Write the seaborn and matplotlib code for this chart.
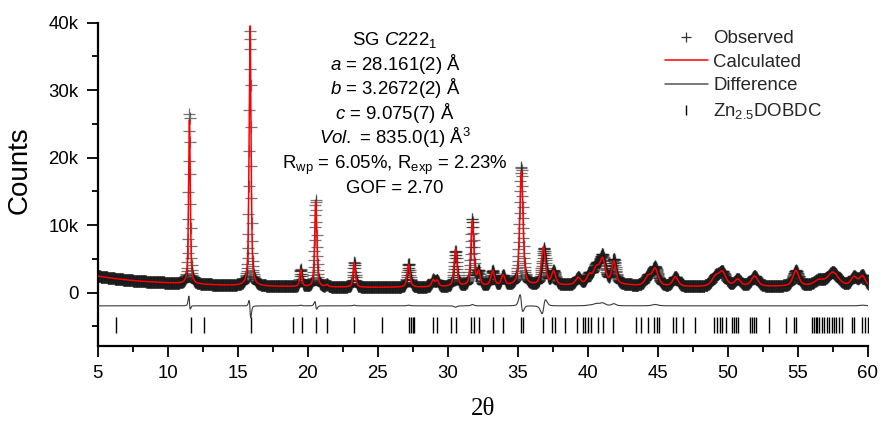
import numpy as np
import pandas as pd
import matplotlib
matplotlib.use("Agg")
import matplotlib.pyplot as plt
import seaborn as sns
from matplotlib.lines import Line2D
from matplotlib.ticker import MultipleLocator, FixedLocator, FixedFormatter

# ---------------- data ----------------
scan_start, scan_stop, scan_step = 5.0, 60.0, 0.02

bg_nodes_2theta = [5, 6, 7, 8, 10, 12, 14, 17, 20, 25, 28, 32, 36, 38.5, 40, 42,
                   43.5, 46, 48, 50, 53, 56, 58, 60]
bg_nodes_counts = [2450, 2150, 1900, 1700, 1450, 1250, 1100, 950, 850, 780, 800, 900,
                   1000, 1050, 1200, 1200, 1000, 900, 850, 900, 900, 950, 950, 850]

peak_2theta = [11.55, 15.88, 19.50, 20.57, 21.36, 23.32, 27.20, 28.95, 29.24, 30.55,
               31.75, 32.20, 33.20, 33.95, 35.25, 36.82, 37.55, 39.30, 40.10, 40.60,
               41.05, 41.85, 44.30, 44.80, 46.25, 49.10, 49.60, 50.70, 51.90, 54.85,
               56.50, 57.50, 59.00, 59.60]
peak_fwhm = [0.14, 0.16, 0.18, 0.18, 0.20, 0.20, 0.25, 0.25, 0.25, 0.25,
             0.25, 0.25, 0.30, 0.30, 0.28, 0.35, 0.35, 0.40, 0.40, 0.50,
             0.45, 0.35, 0.50, 0.50, 0.45, 0.60, 0.60, 0.50, 0.55, 0.50,
             0.80, 0.90, 0.50, 0.50]
calc_height = [24700, 38500, 2500, 12800, 300, 3600, 3400, 1000, 900, 5500,
               9700, 2000, 2200, 1500, 17000, 5600, 2000, 1000, 1200, 2200,
               3500, 3300, 1300, 2500, 1400, 1300, 2000, 1000, 1500, 2300,
               800, 2000, 1300, 1500]
obs_height = [25400, 37800, 2600, 12900, 300, 3700, 3500, 1000, 900, 5300,
              9900, 2000, 2200, 1500, 17600, 5400, 2000, 1000, 1300, 2500,
              3900, 3600, 1300, 2700, 1400, 1300, 2000, 1000, 1500, 2300,
              800, 2000, 1300, 1600]
obs_shift = [-0.004, -0.004, 0.0, -0.006, 0.0, 0.0, 0.0, 0.0, 0.0, 0.0,
             0.0, 0.0, 0.0, 0.0, -0.015, 0.05, 0.0, 0.0, 0.0, 0.0,
             0.0, 0.0, 0.0, 0.0, 0.0, 0.0, 0.0, 0.0, 0.0, 0.0,
             0.0, 0.0, 0.0, 0.0]
lorentz_fraction = 0.55

reflections = [6.33, 11.65, 12.60, 15.96, 18.94, 19.58, 20.60, 21.36, 23.33, 25.32,
               27.20, 27.35, 27.50, 27.60, 28.95, 29.24, 30.24, 30.57, 31.68, 31.87,
               32.23, 33.23, 33.94, 35.20, 35.37, 36.79, 37.46, 37.62, 38.33, 39.24,
               39.64, 39.76, 40.00, 40.24, 40.71, 41.06, 41.78, 43.44, 43.80, 44.27,
               44.75, 44.94, 45.10, 46.10, 46.30, 46.76, 47.66, 49.01, 49.25, 49.42,
               49.61, 49.85, 50.32, 50.44, 50.56, 50.73, 51.56, 51.70, 51.87, 52.03,
               52.94, 54.17, 54.72, 54.84, 56.02, 56.14, 56.27, 56.38, 56.50, 56.69,
               56.86, 57.10, 57.22, 57.41, 57.57, 57.74, 57.93, 58.17, 58.88, 59.00,
               59.60, 59.79, 60.00]

x_tick_values = [5, 10, 15, 20, 25, 30, 35, 40, 45, 50, 55, 60]
y_tick_values = [0, 10000, 20000, 30000, 40000]
y_tick_labels = ["0", "10k", "20k", "30k", "40k"]

info_lines = [r"SG $\mathit{C}$222$_{1}$",
              r"$\mathit{a}$ = 28.161(2) Å",
              r"$\mathit{b}$ = 3.2672(2) Å",
              r"$\mathit{c}$ = 9.075(7) Å",
              r"$\mathit{Vol.}$ = 835.0(1) Å$^{3}$",
              r"R$_{\mathrm{wp}}$ = 6.05%, R$_{\mathrm{exp}}$ = 2.23%",
              "GOF = 2.70"]
legend_labels = ["Observed", "Calculated", "Difference", r"Zn$_{2.5}$DOBDC"]

# ---------------- profile model (Rietveld-style) ----------------
tt = np.arange(scan_start, scan_stop + scan_step / 2, scan_step)
background = np.interp(tt, bg_nodes_2theta, bg_nodes_counts)


def pseudo_voigt(x, pos, fwhm, h, eta):
    hw = fwhm / 2.0
    lor = 1.0 / (1.0 + ((x - pos) / hw) ** 2)
    gau = np.exp(-np.log(2) * ((x - pos) / hw) ** 2)
    return h * (eta * lor + (1 - eta) * gau)


calc = background.copy()
obs = background.copy()
for p, w, hc, ho, s in zip(peak_2theta, peak_fwhm, calc_height, obs_height, obs_shift):
    calc += pseudo_voigt(tt, p, w, hc, lorentz_fraction)
    obs += pseudo_voigt(tt, p + s, w, ho, lorentz_fraction)

diff_offset = -1950
refl_level = -4850
df = pd.DataFrame({"tt": tt, "obs": obs, "calc": calc, "diff": obs - calc + diff_offset})
refl_df = pd.DataFrame({"tt": reflections, "level": refl_level})

# ---------------- style ----------------
sns.set_theme(style="ticks")
plt.rcParams["font.family"] = ["Liberation Sans", "DejaVu Sans"]
plt.rcParams["mathtext.fontset"] = "custom"
plt.rcParams["mathtext.rm"] = "Liberation Sans"
plt.rcParams["mathtext.it"] = "Liberation Sans:italic"
plt.rcParams["mathtext.bf"] = "Liberation Sans:bold"

W, H = 881, 430
fig = plt.figure(figsize=(W / 100, H / 100), dpi=100)
ax_l, ax_r, ax_t, ax_b = 97.7, 868.0, 22.7, 346.0
ax = fig.add_axes([ax_l / W, 1 - ax_b / H, (ax_r - ax_l) / W, (ax_b - ax_t) / H])

sns.scatterplot(data=df, x="tt", y="obs", marker="+", s=75, color="#1a1a1a",
                linewidth=0.9, alpha=0.6, ax=ax, legend=False, zorder=2)
sns.lineplot(data=df, x="tt", y="diff", color="#3a3a3a", linewidth=0.8, ax=ax,
             legend=False, zorder=3)
sns.lineplot(data=df, x="tt", y="calc", color="#ff0000", linewidth=1.1, ax=ax,
             legend=False, zorder=4)
ax.plot(refl_df["tt"], refl_df["level"], linestyle="none", marker="|",
        markersize=11, markeredgewidth=1.0, color="black", zorder=3)

ax.set_xlim(5, 60)
ax.set_ylim(-7900, 40000)
ax.xaxis.set_major_locator(FixedLocator(x_tick_values))
ax.xaxis.set_minor_locator(MultipleLocator(2.5))
ax.yaxis.set_major_locator(FixedLocator(y_tick_values))
ax.yaxis.set_major_formatter(FixedFormatter(y_tick_labels))
ax.yaxis.set_minor_locator(MultipleLocator(5000))

for side in ("top", "right"):
    ax.spines[side].set_visible(False)
for side in ("left", "bottom"):
    ax.spines[side].set_linewidth(1.6)
    ax.spines[side].set_color("black")

ax.tick_params(axis="both", which="major", direction="out", length=8, width=1.3,
               color="black", labelsize=13.4, labelcolor="black", pad=6)
ax.tick_params(axis="both", which="minor", direction="out", length=4.5, width=1.3,
               color="black")

ax.set_ylabel("Counts", fontsize=20, color="black")
ax.yaxis.set_label_coords((33 - ax_l) / (ax_r - ax_l), 1 - (170 - ax_t) / (ax_b - ax_t))
ax.set_xlabel("2θ", fontsize=18, color="black", family=["Liberation Serif", "DejaVu Serif"])
ax.xaxis.set_label_coords(0.5, -(398 - ax_b) / (ax_b - ax_t))

# annotation block
for i, line in enumerate(info_lines):
    fig.text(395 / W, 1 - (45 + 24.7 * i) / H, line, ha="center", va="baseline",
             fontsize=13.4, color="black")

handles = [
    Line2D([], [], linestyle="none", marker="+", markersize=6.5, markeredgewidth=0.9,
           color="#333333"),
    Line2D([], [], color="#ff0000", linewidth=1.1),
    Line2D([], [], color="#555555", linewidth=1.1),
    Line2D([], [], linestyle="none", marker="|", markersize=7.5, markeredgewidth=1.0,
           color="black"),
]
fig.legend(handles, legend_labels, loc="upper left", bbox_to_anchor=(665 / W, 1 - 30 / H),
           frameon=False, fontsize=13.4, handlelength=2.3, handletextpad=0.3,
           labelspacing=0.36, borderpad=0, borderaxespad=0)

fig.savefig("out.png", dpi=100)
